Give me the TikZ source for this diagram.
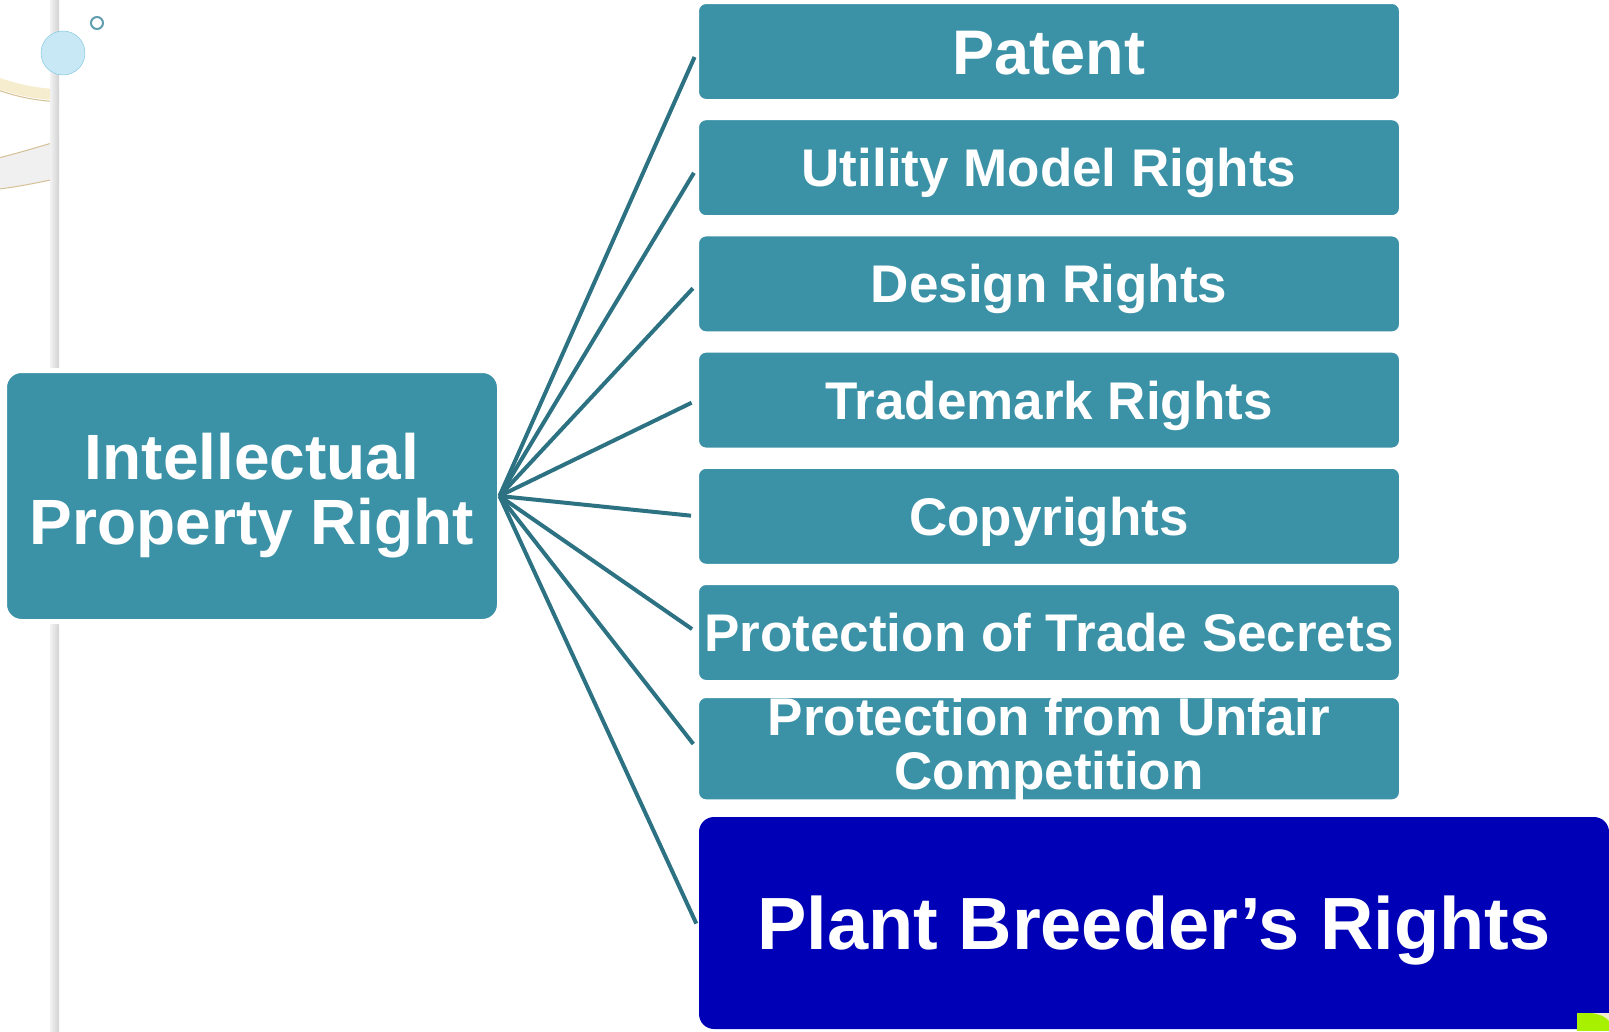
\documentclass[tikz,border=0pt]{standalone}
\usepackage{fontspec}
\setmainfont{Liberation Sans}
\definecolor{boxteal}{RGB}{59,146,167}
\definecolor{lineteal}{RGB}{44,114,130}
\definecolor{plantblue}{RGB}{0,0,182}
\definecolor{bubble}{RGB}{200,232,246}
\definecolor{bubbleedge}{RGB}{120,196,220}
\definecolor{cream}{RGB}{246,236,206}
\definecolor{goldline}{RGB}{212,192,150}
\definecolor{lime}{RGB}{166,240,0}
\begin{document}
\begin{tikzpicture}[x=1pt, y=-1pt,
    branch/.style={rectangle, rounded corners=8pt, fill=boxteal, draw=white, line width=2pt,
        minimum width=702pt, minimum height=97pt, inner sep=0pt, text=white,
        font=\bfseries\fontsize{53}{54}\selectfont, text height=38pt, text depth=0pt},
    root/.style={rectangle, rounded corners=17pt, fill=boxteal, draw=white, line width=5pt,
        minimum width=495pt, minimum height=251pt, inner sep=0pt, outer sep=0pt, text=white,
        align=center, font=\bfseries\fontsize{64}{65}\selectfont},
    plantbox/.style={rectangle, rounded corners=15pt, fill=plantblue, minimum width=910pt,
        minimum height=212pt, inner sep=0pt, text=white,
        font=\bfseries\fontsize{74}{76}\selectfont, text height=53pt, text depth=0pt},
    link/.style={draw=lineteal, line width=4pt, shorten >=6pt}]
    \useasboundingbox (0,0) rectangle (1609,1031);
    % slide decoration on the left
    \begin{scope}
        \clip (0,0) rectangle (59,1031);
        \draw[line width=11pt, cream] (-10,80) .. controls (15,90) and (40,95) .. (70,95);
        \draw[goldline, line width=1pt] (-10,87) .. controls (15,97) and (40,102) .. (70,102);
        \fill[gray!12] (-10,160) .. controls (20,153) and (40,146) .. (70,138) -- (70,176) .. controls (40,182) and (20,187) .. (-10,190) -- cycle;
        \draw[goldline, line width=1pt] (-10,160) .. controls (20,153) and (40,146) .. (70,138);
        \draw[goldline, line width=1pt] (-10,190) .. controls (20,187) and (40,182) .. (70,176);
    \end{scope}
    \shade[left color=gray!10, right color=gray!35] (50,0) rectangle (59,1031);
    \draw[bubbleedge, fill=bubble] (63,53) circle (22);
    \draw[bubbleedge!80!black, line width=2pt] (97,23) circle (6);
    % boxes
    \node[root] (ipr) at (252,496) {Intellectual\\Property Right};
    \node[branch, font=\bfseries\fontsize{63}{64}\selectfont, text height=45pt] (patent) at (1049,51.5) {Patent};
    \node[branch] (utility) at (1049,167.7) {Utility Model Rights};
    \node[branch] (design) at (1049,283.9) {Design Rights};
    \node[branch] (trademark) at (1049,400.1) {Trademark Rights};
    \node[branch] (copyright) at (1049,516.3) {Copyrights};
    \node[branch] (secrets) at (1049,632.5) {Protection of Trade Secrets};
    \node[branch, align=center, text height={}, text depth={}] (unfair) at (1049,748.7) {Protection from Unfair\\Competition};
    \node[plantbox] (plant) at (1154,923) {Plant Breeder’s Rights};
    % bottom right corner
    \fill[lime] (1577,1013) rectangle (1609,1031);
    \fill[cream] (1592,1013) .. controls (1600,1014) and (1606,1017) .. (1609,1021) -- (1609,1013) -- cycle;
    % connectors
    \draw[link] (ipr.east) -- (patent.west);
    \draw[link] (ipr.east) -- (utility.west);
    \draw[link] (ipr.east) -- (design.west);
    \draw[link] (ipr.east) -- (trademark.west);
    \draw[link] (ipr.east) -- (copyright.west);
    \draw[link] (ipr.east) -- (secrets.west);
    \draw[link] (ipr.east) -- (unfair.west);
    \draw[link] (ipr.east) -- ([yshift=-6pt]plant.west);
\end{tikzpicture}
\end{document}
